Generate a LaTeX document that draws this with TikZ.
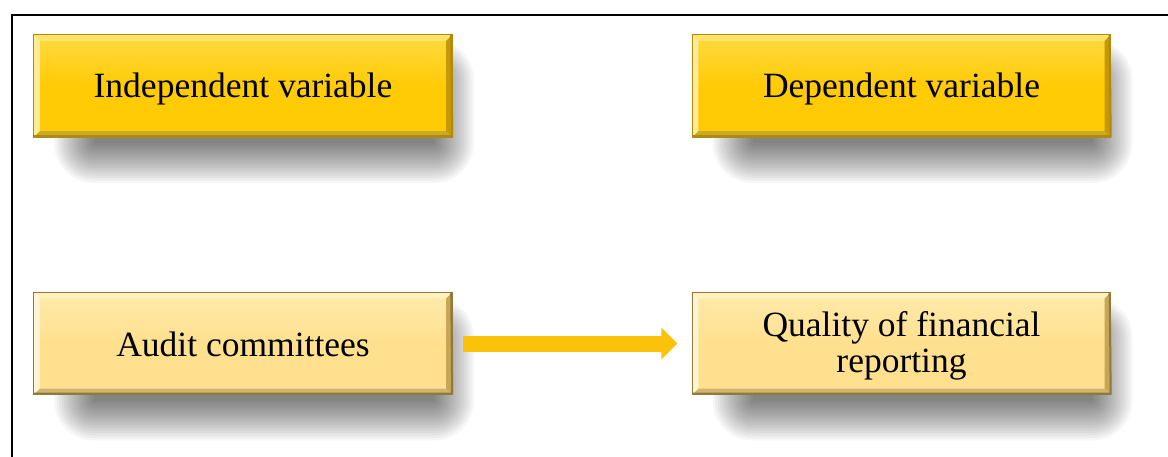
\documentclass[tikz,border=0pt]{standalone}
\usepackage{fontspec}
\setmainfont{Liberation Serif}
\usetikzlibrary{arrows.meta}
\definecolor{goldmid}{HTML}{FFCB05}
\definecolor{goldtop}{HTML}{FFE36A}
\definecolor{golddark}{HTML}{C49A00}
\definecolor{goldedge}{HTML}{B08A10}
\definecolor{palemid}{HTML}{FFE08E}
\definecolor{paletop}{HTML}{FFF1C0}
\definecolor{paledark}{HTML}{C9A557}
\definecolor{paleedge}{HTML}{8F7A3A}
\definecolor{arrowgold}{HTML}{FAC20A}
\tikzset{
  x=1pt, y=1pt,
  basebox/.style={rectangle, minimum width=418pt, minimum height=102pt, inner sep=0pt},
  topbox/.style={basebox, top color=goldtop!60!goldmid, bottom color=goldmid, middle color=goldmid},
  palebox/.style={basebox, top color=paletop!60!palemid, bottom color=palemid, middle color=palemid},
  boxtext/.style={anchor=base, inner sep=0pt, align=center, font=\fontsize{35.5}{36}\selectfont},
  flowarrow/.style={draw=arrowgold, line width=16pt, -{Triangle[length=16pt,width=31pt,fill=arrowgold]}}
}
\newcommand{\softshadow}[1]{%
  \foreach \r in {0,2.5,...,40}{%
    \fill[black, opacity=0.034, rounded corners=\r pt]
      ([shift={(-209+60-\r,51-45+\r)}]#1) rectangle ([shift={(209-18+\r,-51-6-\r)}]#1);
  }%
}
\newcommand{\bevel}[4]{%
  % #1 node, #2 light colour, #3 dark colour, #4 edge colour
  \fill[#2] (#1.north west) -- (#1.north east) -- ([shift={(-6,-6)}]#1.north east) -- ([shift={(6,-6)}]#1.north west) -- cycle;
  \fill[#2!70!white] (#1.north west) -- ([shift={(6,-6)}]#1.north west) -- ([shift={(6,6)}]#1.south west) -- (#1.south west) -- cycle;
  \fill[#3] (#1.north east) -- (#1.south east) -- ([shift={(-6,6)}]#1.south east) -- ([shift={(-6,-6)}]#1.north east) -- cycle;
  \fill[#3!85!white] (#1.south west) -- (#1.south east) -- ([shift={(-6,6)}]#1.south east) -- ([shift={(6,6)}]#1.south west) -- cycle;
  \draw[#4, line width=0.9pt] (#1.north west) rectangle (#1.south east);
  \draw[#4, line width=2pt] ([shift={(0,1)}]#1.south west) -- ([shift={(0,1)}]#1.south east) -- ([shift={(-1,0)}]#1.north east);
}
\begin{document}
\begin{tikzpicture}
\useasboundingbox (0,0) rectangle (1168,-456);
\fill[white] (0,0) rectangle (1168,-456);
\draw[line width=1.6pt] (12,-470) -- (12,-15) -- (1180,-15);

\coordinate (ivc) at (243,-86);
\coordinate (dvc) at (901.5,-86);
\coordinate (acc) at (243,-343.5);
\coordinate (qfc) at (901.5,-343.5);

\softshadow{ivc}
\softshadow{dvc}
\softshadow{acc}
\softshadow{qfc}

\node[topbox] (iv) at (ivc) {};
\node[topbox] (dv) at (dvc) {};
\node[palebox] (ac) at (acc) {};
\node[palebox] (qf) at (qfc) {};

\bevel{iv}{goldtop}{golddark}{goldedge}
\bevel{dv}{goldtop}{golddark}{goldedge}
\bevel{ac}{paletop}{paledark}{paleedge}
\bevel{qf}{paletop}{paledark}{paleedge}

\node[boxtext] (ivt) at ([yshift=-11]ivc) {Independent variable};
\node[boxtext] (dvt) at ([yshift=-11]dvc) {Dependent variable};
\node[boxtext] (act) at ([yshift=-12.5]acc) {Audit committees};
\node[boxtext] (qft) at ([yshift=-28.5]qfc) {Quality of financial\\reporting};

\draw[flowarrow] ([xshift=11pt]ac.east) -- ([xshift=-15pt]qf.west);
\end{tikzpicture}
\end{document}
